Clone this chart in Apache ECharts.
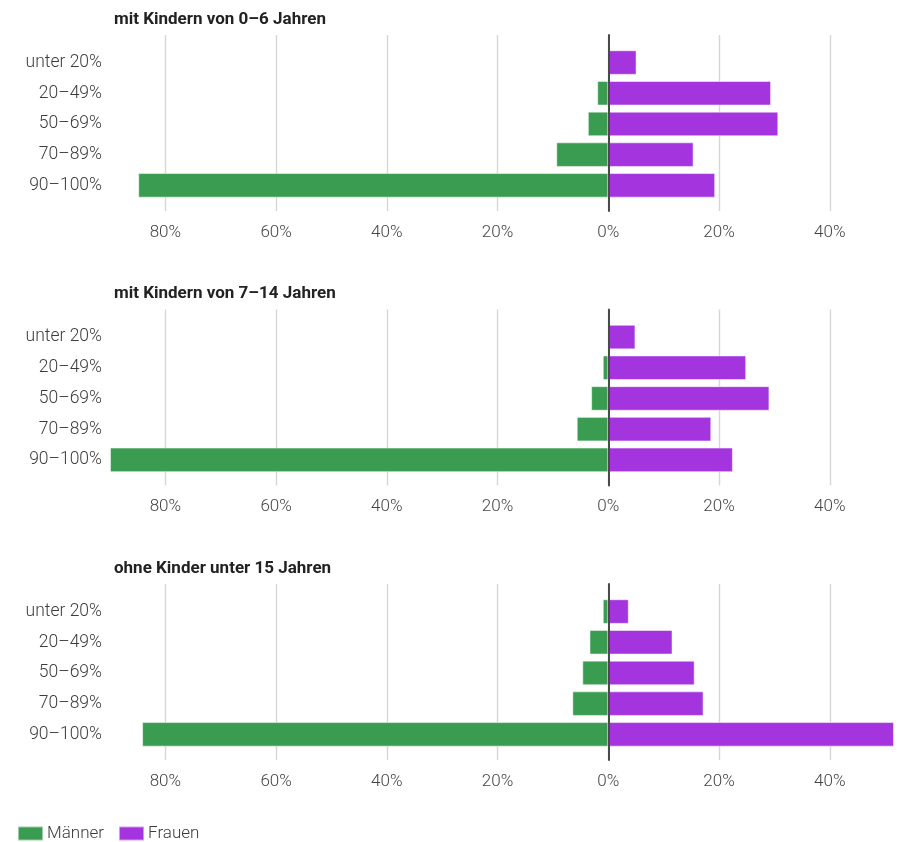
<!DOCTYPE html>
<html>
<head>
<meta charset="utf-8">
<script src="https://cdn.jsdelivr.net/npm/echarts@6/dist/echarts.min.js"></script>
<style>
html,body{margin:0;padding:0;background:#fff;}
#chart{width:901px;height:842px;}
</style>
</head>
<body>
<div id="chart"></div>
<script>
// ---- data ----
const categories = ['unter 20%', '20–49%', '50–69%', '70–89%', '90–100%'];
const panelTitles = ['mit Kindern von 0–6 Jahren', 'mit Kindern von 7–14 Jahren', 'ohne Kinder unter 15 Jahren'];
const seriesNames = ['Männer', 'Frauen'];
const men0_6 = [0, 2.0, 3.7, 9.4, 84.9];
const women0_6 = [5.1, 29.4, 30.7, 15.4, 19.3];
const men7_14 = [0, 1.0, 3.1, 5.7, 90.0];
const women7_14 = [4.9, 24.9, 29.1, 18.6, 22.5];
const menNone = [1.0, 3.4, 4.7, 6.5, 84.2];
const womenNone = [3.7, 11.6, 15.6, 17.2, 51.6];
const axisMin = -90;
const axisMax = 51.6;

const menData = [men0_6, men7_14, menNone];
const womenData = [women0_6, women7_14, womenNone];

const GREEN = '#3a9c50';
const PURPLE = '#a334de';
const FONT = 'Roboto';

const chart = echarts.init(document.getElementById('chart'), null, {renderer: 'canvas'});

const grids = [], xAxes = [], yAxes = [], series = [], titles = [];
const LEFT = 110, RIGHT = 7;
for (let p = 0; p < 3; p++) {
  const dy = p * 274.5;
  grids.push({left: LEFT, right: RIGHT, top: 35 + dy, height: 176, containLabel: false});
  grids.push({left: LEFT, right: RIGHT, top: 47.2 + dy, height: 153.5, containLabel: false});
  const gb = p * 2, gr = p * 2 + 1;
  xAxes.push({
    type: 'value', gridIndex: gb, min: axisMin, max: axisMax,
    minInterval: 20, maxInterval: 20, splitNumber: 7,
    axisLine: {show: false}, axisTick: {show: false},
    axisLabel: {show: true, showMinLabel: false, showMaxLabel: false, margin: 13,
      color: '#444', fontFamily: FONT, fontSize: 17, fontWeight: 300,
      formatter: v => Math.abs(Math.round(v)) + '%'},
    splitLine: {show: true, showMinLine: false, showMaxLine: false, lineStyle: {color: '#d6d6d6', width: 1.4}}
  });
  xAxes.push({
    type: 'value', gridIndex: gr, min: axisMin, max: axisMax, show: false,
    splitLine: {show: false}
  });
  yAxes.push({
    type: 'value', gridIndex: gb, min: 0, max: 1, z: 10,
    axisLine: {show: true, onZero: true, lineStyle: {color: '#4a4a4a', width: 2}},
    axisTick: {show: false}, axisLabel: {show: false}, splitLine: {show: false}
  });
  yAxes.push({
    type: 'category', gridIndex: gr, data: categories, inverse: true,
    axisLine: {show: false}, axisTick: {show: false},
    axisLabel: {margin: 8, color: '#3c3c3c', fontFamily: FONT, fontSize: 17.5, fontWeight: 300}
  });
  series.push({
    name: seriesNames[0], type: 'bar', xAxisIndex: gr, yAxisIndex: gr, stack: 's' + p,
    barCategoryGap: '20%',
    data: menData[p].map(v => -v),
    itemStyle: {color: GREEN, borderColor: 'rgba(255,255,255,0.5)', borderWidth: 1},
    emphasis: {disabled: true}
  });
  series.push({
    name: seriesNames[1], type: 'bar', xAxisIndex: gr, yAxisIndex: gr, stack: 's' + p,
    barCategoryGap: '20%',
    data: womenData[p],
    itemStyle: {color: PURPLE, borderColor: 'rgba(255,255,255,0.5)', borderWidth: 1},
    emphasis: {disabled: true}
  });
  titles.push({
    text: panelTitles[p], left: 109, top: 6 + dy,
    textStyle: {fontFamily: FONT, fontWeight: 'bold', fontSize: 17, color: '#222'}
  });
}

chart.setOption({
  animation: false,
  backgroundColor: '#fff',
  title: titles,
  grid: grids,
  xAxis: xAxes,
  yAxis: yAxes,
  series: series,
  legend: {
    data: seriesNames, left: 17, top: 825, padding: 0, itemWidth: 25, itemHeight: 14, itemGap: 14,
    icon: 'rect',
    textStyle: {fontFamily: FONT, fontSize: 17, fontWeight: 300, color: '#3c3c3c', padding: [0, 0, 0, -1]}
  }
});
</script>
</body>
</html>
